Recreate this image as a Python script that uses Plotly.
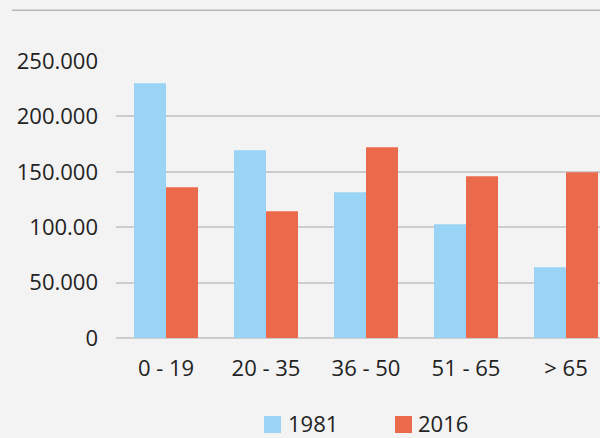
import plotly.graph_objects as go

categories = ["0 - 19", "20 - 35", "36 - 50", "51 - 65", "> 65"]
values_1981 = [230000, 169500, 131500, 102600, 63800]
values_2016 = [136000, 114400, 172100, 145900, 149500]
series_names = ["1981", "2016"]
y_tickvals = [0, 50000, 100000, 150000, 200000, 250000]
y_ticktext = ["0", "50.000", "100.00", "150.000", "200.000", "250.000"]

colors = ["#99d3f5", "#ec6a4c"]
BG = "#f3f3f3"
FONT = "Open Sans"
TXT = "#222222"

W, H = 600, 438
L, R, T, B = 116, 0, 61, 100
pw, ph = W - L - R, H - T - B


def px(x):
    return (x - L) / pw


def py(y):
    return (H - B - y) / ph


fig = go.Figure()
for name, vals, c in zip(series_names, [values_1981, values_2016], colors):
    fig.add_trace(go.Bar(x=categories, y=vals, name=name, marker=dict(color=c, line=dict(width=0)),
                         showlegend=False))

shapes = [
    dict(type="line", xref="paper", yref="paper", x0=px(12), x1=1, y0=py(10.3), y1=py(10.3),
         line=dict(color="#b8b8b8", width=1.5)),
]
annotations = []
leg_sq_x = [264, 395]
leg_txt_x = [287, 417]
for i, name in enumerate(series_names):
    shapes.append(dict(type="rect", xref="paper", yref="paper",
                       x0=px(leg_sq_x[i]), x1=px(leg_sq_x[i] + 17), y0=py(416), y1=py(433),
                       fillcolor=colors[i], line=dict(width=0)))
    annotations.append(dict(text=name, xref="paper", yref="paper", x=px(leg_txt_x[i] - 1), y=py(423),
                            xanchor="left", yanchor="middle", showarrow=False,
                            font=dict(family=FONT, size=22, color=TXT)))

fig.update_layout(
    width=W, height=H,
    margin=dict(l=L, r=R, t=T, b=B, autoexpand=False),
    paper_bgcolor=BG, plot_bgcolor=BG,
    barmode="group", bargap=0.36, bargroupgap=0,
    font=dict(family=FONT, size=22, color=TXT),
    showlegend=False,
    shapes=shapes,
    annotations=annotations,
    xaxis=dict(range=[-0.5, 4.34], showgrid=False, zeroline=False, showline=False,
               ticks="", tickfont=dict(size=22, color=TXT), ticklabelstandoff=15),
    yaxis=dict(range=[0, 250000], tickvals=y_tickvals, ticktext=y_ticktext,
               showgrid=True, gridcolor="#cccccc", gridwidth=1.5,
               zeroline=True, zerolinecolor="#cccccc", zerolinewidth=1.5,
               showline=False, ticks="", tickfont=dict(size=22, color=TXT),
               ticklabelstandoff=17),
)

fig.write_html(
    "out.html",
    config={"displayModeBar": False},
    post_script="document.body.style.margin='0';document.body.style.overflow='hidden';"
                "document.body.style.background='#f3f3f3';",
)
